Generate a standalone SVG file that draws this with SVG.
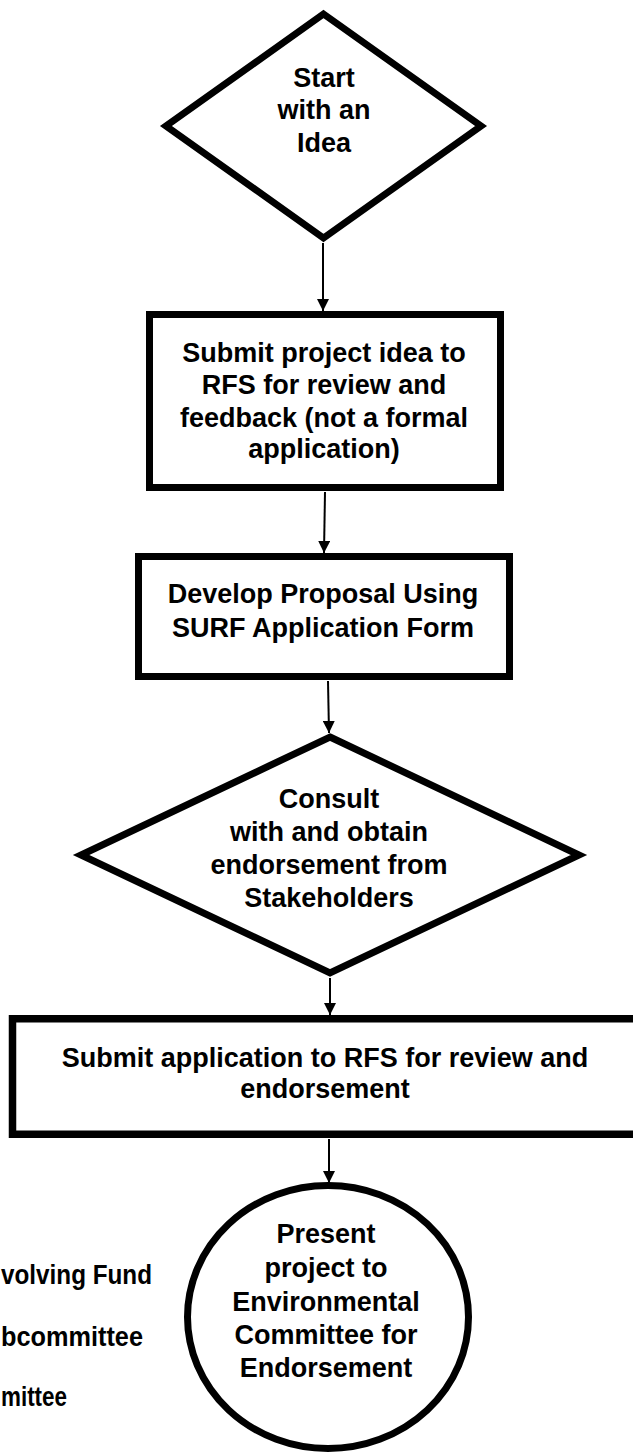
<svg xmlns="http://www.w3.org/2000/svg" width="633" height="1454" viewBox="0 0 633 1454">
<style>
.shape{fill:#fff;stroke:#000;stroke-width:7;stroke-linejoin:miter;stroke-miterlimit:10}
.t{font-family:"Liberation Sans",Arial,Helvetica,sans-serif;font-weight:bold;font-size:27px;fill:#000;text-anchor:middle}
.l{font-family:"Liberation Sans",Arial,Helvetica,sans-serif;font-weight:bold;font-size:27px;fill:#000;text-anchor:start}
.c{stroke:#000;stroke-width:2;fill:none;marker-end:url(#arr)}
</style>
<defs>
<marker id="arr" viewBox="0 0 12 12" refX="12" refY="6" markerWidth="12" markerHeight="12" markerUnits="userSpaceOnUse" orient="auto">
<path d="M0,0 L12,6 L0,12 z" fill="#000"/>
</marker>
</defs>
<rect width="633" height="1454" fill="#fff"/>
<g id="connectors">
<line class="c" x1="323" y1="243" x2="323" y2="311"/>
<line class="c" x1="325" y1="492" x2="324" y2="553"/>
<line class="c" x1="328" y1="681" x2="329" y2="733"/>
<line class="c" x1="330" y1="978" x2="330" y2="1015"/>
<line class="c" x1="329" y1="1139" x2="329" y2="1183"/>
</g>
<g id="start">
<polygon class="shape" points="323.5,14 481,126 323.5,238 166,126"/>
<text class="t" x="324" y="87">Start</text>
<text class="t" x="324" y="119">with an</text>
<text class="t" x="324" y="152">Idea</text>
</g>
<g id="submit-idea">
<rect class="shape" x="149.5" y="314.5" width="351" height="173"/>
<text class="t" x="324" y="362">Submit project idea to</text>
<text class="t" x="324" y="394">RFS for review and</text>
<text class="t" x="324" y="427">feedback (not a formal</text>
<text class="t" x="324" y="458">application)</text>
</g>
<g id="develop">
<rect class="shape" x="138.5" y="556.5" width="371" height="120"/>
<text class="t" x="323" y="603">Develop Proposal Using</text>
<text class="t" x="323" y="637">SURF Application Form</text>
</g>
<g id="consult">
<polygon class="shape" points="330,737 579,855 330,973 81,855"/>
<text class="t" x="329" y="808">Consult</text>
<text class="t" x="329" y="841">with and obtain</text>
<text class="t" x="329" y="874">endorsement from</text>
<text class="t" x="329" y="907">Stakeholders</text>
</g>
<g id="submit-application">
<rect class="shape" x="12.5" y="1018.75" width="625" height="115.5" style="stroke-width:7.5"/>
<text class="t" x="325" y="1067">Submit application to RFS for review and</text>
<text class="t" x="325" y="1098">endorsement</text>
</g>
<g id="present">
<ellipse class="shape" cx="328" cy="1317" rx="140.5" ry="131.5"/>
<text class="t" x="326" y="1243">Present</text>
<text class="t" x="326" y="1277">project to</text>
<text class="t" x="326" y="1311">Environmental</text>
<text class="t" x="326" y="1344">Committee for</text>
<text class="t" x="326" y="1377">Endorsement</text>
</g>
<g id="legend">
<text class="l" x="1" y="1284" textLength="151" lengthAdjust="spacingAndGlyphs">volving Fund</text>
<text class="l" x="1" y="1346" textLength="142" lengthAdjust="spacingAndGlyphs">bcommittee</text>
<text class="l" x="1" y="1406" textLength="66" lengthAdjust="spacingAndGlyphs">mittee</text>
</g>
</svg>
